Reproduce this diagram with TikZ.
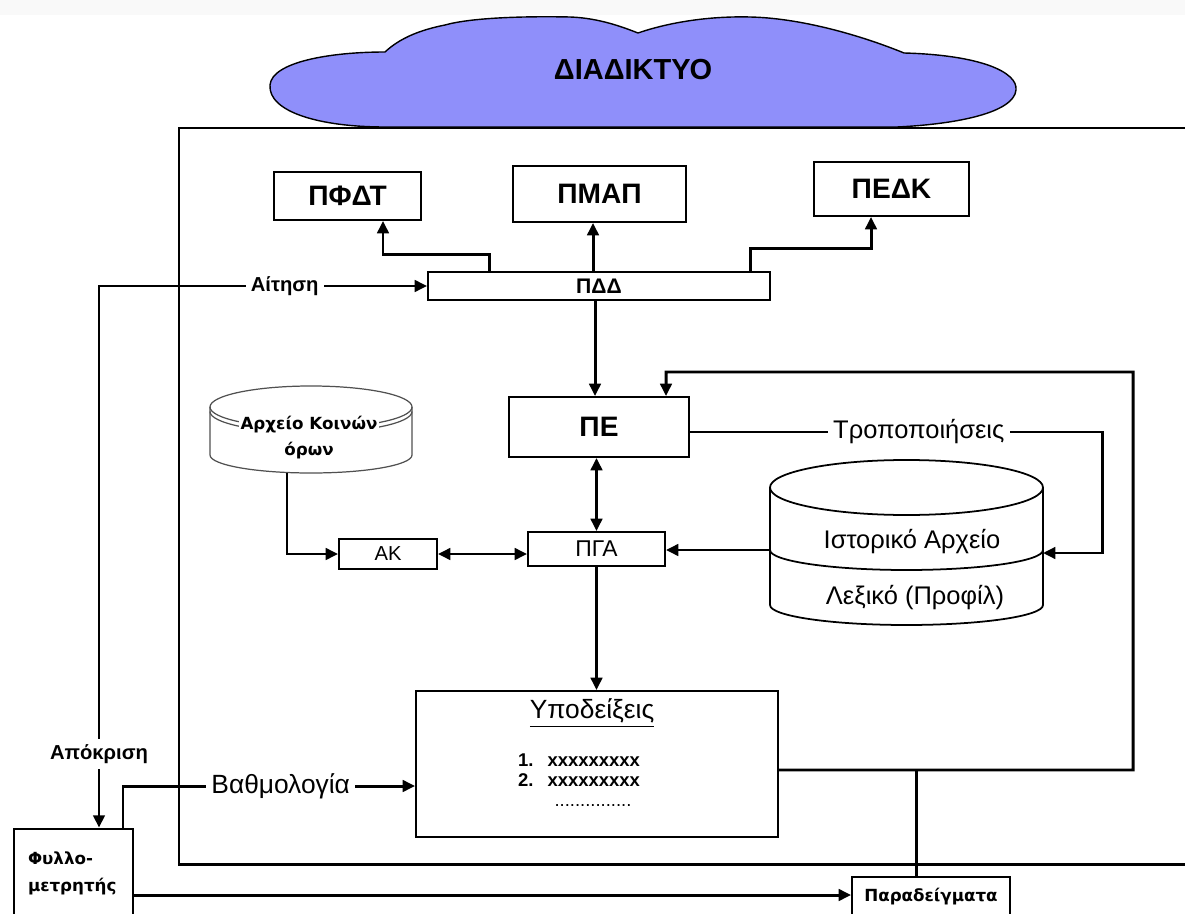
\documentclass[tikz,border=0pt]{standalone}
\usepackage{fontspec}
\setmainfont{Liberation Sans}
\newfontfamily\tahfont{DejaVu Sans}
\usetikzlibrary{positioning,arrows.meta,calc}
\definecolor{cloudblue}{RGB}{143,143,250}
\definecolor{drumgray}{RGB}{80,80,80}

\begin{document}
\begin{tikzpicture}[
    box/.style={rectangle, draw, line width=1.1pt, inner sep=0pt},
    arr/.style={-{Triangle[length=7pt,width=6.5pt]}, line width=1.7pt},
    darr/.style={{Triangle[length=7pt,width=6.5pt]}-{Triangle[length=7pt,width=6.5pt]}, line width=1.7pt},
    link/.style={line width=1.7pt},
    lbl/.style={fill=white, inner xsep=3pt, inner ysep=2pt},
    drum/.style={line width=1pt},
    big/.style={font=\fontsize{16}{18}\selectfont\bfseries},
    mid/.style={font=\fontsize{14.5}{17}\selectfont},
    bold/.style={font=\fontsize{11.5}{13}\selectfont\bfseries},
    tah/.style={font=\tahfont\fontsize{9.5}{15}\selectfont\bfseries}
  ]
    \useasboundingbox (0,0) rectangle (23.7,18.26);
    \clip (0,0) rectangle (23.7,18.26);
    \fill[gray!5] (0,17.96) rectangle (23.7,18.26);

    % internet cloud
    \draw[fill=cloudblue, line width=0.8pt]
      (7.70,15.72) .. controls (6.40,15.72) and (5.36,16.02) .. (5.40,16.56)
      .. controls (5.44,17.02) and (6.60,17.22) .. (7.70,17.22)
      .. controls (8.00,17.50) and (8.40,17.66) .. (8.90,17.76)
      .. controls (9.40,17.90) and (10.40,17.94) .. (11.40,17.92)
      .. controls (12.00,17.90) and (12.50,17.70) .. (12.76,17.60)
      .. controls (13.40,17.82) and (14.20,17.94) .. (15.00,17.92)
      .. controls (16.00,17.90) and (17.20,17.56) .. (18.08,17.20)
      .. controls (19.60,17.16) and (20.36,16.82) .. (20.32,16.46)
      .. controls (20.28,16.02) and (19.20,15.78) .. (17.94,15.72) -- cycle;
    \node[font=\fontsize{16.5}{18}\selectfont\bfseries] (net) at (12.66,16.86) {ΔΙΑΔΙΚΤΥΟ};

    % system frame
    \draw[link] (23.7,15.7) -- (3.58,15.7) -- (3.58,0.98) -- (23.7,0.98);

    % modules
    \node[box, big, minimum width=2.94cm, minimum height=0.96cm] (pfdt) at (6.95,14.34) {ΠΦΔΤ};
    \node[box, big, minimum width=3.46cm, minimum height=1.12cm] (pmap) at (11.99,14.38) {ΠΜΑΠ};
    \node[box, big, minimum width=3.10cm, minimum height=1.08cm] (pedk) at (17.83,14.48) {ΠΕΔΚ};
    \node[box, font=\fontsize{12}{14}\selectfont\bfseries, minimum width=6.84cm, minimum height=0.56cm] (pdd) at (11.98,12.54) {ΠΔΔ};
    \node[box, big, minimum width=3.60cm, minimum height=1.20cm] (pe) at (11.98,9.72) {ΠΕ};
    \node[box, font=\fontsize{13}{15}\selectfont, minimum width=2.74cm, minimum height=0.68cm] (pga) at (11.93,7.28) {ΠΓΑ};
    \node[box, font=\fontsize{11.5}{13}\selectfont, minimum width=1.96cm, minimum height=0.60cm] (ak) at (7.76,7.18) {ΑΚ};

    % suggestions box
    \node[box, minimum width=7.24cm, minimum height=2.92cm] (hints) at (11.94,2.98) {};
    \node[font=\fontsize{15}{17}\selectfont] (hintstitle) at (11.84,4.0) {\underline{Υποδείξεις}};
    \node[font=\fontsize{10.5}{11.3}\selectfont\bfseries, align=left] (hintlist) at (11.58,2.86)
      {1.\hspace{8pt}xxxxxxxxx\\2.\hspace{8pt}xxxxxxxxx};
    \node[font=\fontsize{10.5}{12}\selectfont, inner sep=0pt] (hintdots) at (11.86,2.14) {...............};

    % browser side
    \node[box, line width=1.6pt, tah, minimum width=2.38cm, minimum height=1.78cm,
      text width=1.82cm, inner xsep=0.28cm, align=left] (meter) at (1.47,0.79) {Φυλλο-\\μετρητής};
    \node[box, tah, minimum width=3.16cm, minimum height=0.80cm] (examples) at (18.62,0.32) {Παραδείγματα};

    % common terms drum
    \draw[drum, drumgray, line width=0.7pt] (4.20,10.12) -- (4.20,9.16)
      arc[start angle=180, end angle=360, x radius=2.02, y radius=0.36] -- (8.24,10.12);
    \draw[drumgray, line width=0.7pt] (6.22,10.12) ellipse [x radius=2.02, y radius=0.42];
    \draw[drumgray, line width=0.7pt] (4.20,10.03) arc[start angle=180, end angle=360, x radius=2.02, y radius=0.42];
    \node[tah, fill=white, inner sep=1pt, align=center] (commons) at (6.18,9.51) {Αρχείο Κοινών\\όρων};
    \coordinate (commonsout) at (5.74,8.81);

    % history / profile drum
    \draw[drum] (15.40,8.51) -- (15.40,6.16)
      arc[start angle=180, end angle=360, x radius=2.73, y radius=0.40] -- (20.86,8.51);
    \draw[drum] (18.13,8.51) ellipse [x radius=2.73, y radius=0.55];
    \draw[drum] (15.40,7.26) arc[start angle=180, end angle=360, x radius=2.73, y radius=0.40];
    \node[mid] (histtop) at (18.24,7.42) {Ιστορικό Αρχείο};
    \node[mid] (histbot) at (18.30,6.30) {Λεξικό (Προφίλ)};
    \coordinate (histL) at (15.40,7.26);
    \coordinate (histR) at (20.86,7.20);

    % connectors
    \draw[arr] ([xshift=-2.2cm]pdd.north) -- ++(0,0.34) -| ([xshift=0.71cm]pfdt.south);
    \coordinate (pmapin) at ([xshift=-0.13cm]pmap.south);
    \draw[arr] (pmapin |- pdd.north) -- (pmapin);
    \draw[arr] ([xshift=3.02cm]pdd.north) -- ++(0,0.46) -| ([xshift=-0.41cm]pedk.south);

    \draw[darr] (pdd.west) -| node[lbl, bold, pos=0.217] (req) {Αίτηση}
      node[lbl, bold, pos=0.932, inner ysep=3pt] (resp) {Απόκριση} ([xshift=0.51cm]meter.north);
    \draw[arr] ([xshift=0.99cm]meter.north) |- node[lbl, mid, font=\fontsize{15}{17}\selectfont, pos=0.77] (grade) {Βαθμολογία}
      ([yshift=-0.44cm]hints.west);

    \draw[arr] ([xshift=-0.08cm]pdd.south) -- ([xshift=-0.08cm]pe.north);
    \draw[darr] (pga.north |- pe.south) -- (pga.north);
    \draw[darr] (ak.east) -- (ak.east -| pga.west);
    \draw[arr] (pga.south) -- (pga.south |- hints.north);
    \draw[arr] (histL) -- (histL -| pga.east);
    \draw[arr] (commonsout) |- (ak.west);

    \draw[arr] ([yshift=-0.1cm]pe.east) -- node[lbl, mid, pos=0.554] (edits) {Τροποποιήσεις} ++(8.26,0) |- (histR);

    \coordinate (fbstart) at ([yshift=-0.12cm]hints.east);
    \draw[arr] (fbstart) -- (22.66,2.86) |- (13.32,10.82) -- ([xshift=1.34cm]pe.north);
    \coordinate (exin) at ([xshift=-0.3cm]examples.north);
    \draw[link] (exin) -- (exin |- fbstart);
    \coordinate (meterout) at ([yshift=-0.43cm]meter.east);
    \draw[arr] (meterout) -- (meterout -| examples.west);
  \end{tikzpicture}
\end{document}
